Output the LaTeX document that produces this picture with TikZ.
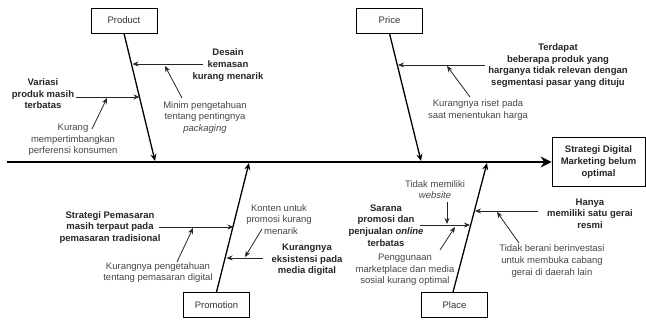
\documentclass[tikz,border=0pt]{standalone}
\usepackage{fontspec}
\setmainfont{Liberation Sans}
\usetikzlibrary{arrows.meta}

\begin{document}
\begin{tikzpicture}[x=1pt, y=-1pt]
	\tikzstyle{every node} = [font=\fontsize{9.5}{11.6}\selectfont, align=center, inner sep=1pt]
	\tikzstyle{category} = [draw, line width=0.8pt, minimum width=66pt, minimum height=25pt, text=black!80]
	\tikzstyle{cause} = [font=\fontsize{9.5}{11.6}\selectfont\bfseries, text=black!85]
	\tikzstyle{reason} = [text=black!72]
	\tikzstyle{spine} = [line width=2.4pt, -{Stealth[length=11pt, width=11pt]}]
	\tikzstyle{bone} = [line width=1.3pt, -{Stealth[length=7pt, width=6pt]}]
	\tikzstyle{branch} = [line width=0.8pt, black!85, -{Stealth[length=6pt, width=5pt]}]
	\useasboundingbox (0,0) rectangle (646,320);
	% categories and effect
	\node[category] (product) at (124,20.5) {Product};
	\node[category] (price) at (389.5,20.5) {Price};
	\node[category] (promotion) at (216.5,305) {Promotion};
	\node[category] (place) at (454.5,305) {Place};
	\node[cause, draw, line width=0.8pt, minimum width=93pt, minimum height=49pt] (effect) at (598.5,162) {Strategi Digital\\Marketing belum\\optimal};
	\coordinate (head) at (7,162);
	\draw[spine] (head) -- (effect.west);
	% bones
	\coordinate (prodtip) at (155,161);
	\coordinate (pricetip) at (421,161);
	\coordinate (promotip) at (249,163);
	\coordinate (placetip) at (487,163);
	\draw[bone] (product.south) -- (prodtip);
	\draw[bone] (price.south) -- (pricetip);
	\draw[bone] (promotion.north) -- (promotip);
	\draw[bone] ([xshift=-1.5pt]place.north) -- (placetip);
	% product
	\node[cause] (desain) at (228,65) {Desain\\kemasan\\kurang menarik};
	\node[reason] (minim) at (205,117.5) {Minim pengetahuan\\tentang pentingnya\\\textit{packaging}};
	\node[cause] (variasi) at (43,94) {Variasi\\produk masih\\terbatas};
	\node[reason] (kurang) at (73,140) {Kurang\\mempertimbangkan\\perferensi konsumen};
	\coordinate (desainl) at (203,64);
	\coordinate (desaint) at (132.5,64);
	\coordinate (minimt) at (165,66);
	\coordinate (minimf) at (182,98);
	\coordinate (variasil) at (76,97);
	\coordinate (variasit) at (139.5,97);
	\coordinate (kurangt) at (107,98);
	\coordinate (kurangf) at (92,129);
	\draw[branch] (desainl) -- (desaint);
	\draw[branch] (minimf) -- (minimt);
	\draw[branch] (variasil) -- (variasit);
	\draw[branch] (kurangf) -- (kurangt);
	% price
	\node[cause] (terdapat) at (558,65.5) {Terdapat\\beberapa produk yang\\harganya tidak relevan dengan\\segmentasi pasar yang dituju};
	\node[reason] (riset) at (478,110) {Kurangnya riset pada\\saat menentukan harga};
	\coordinate (terdapatl) at (485,65);
	\coordinate (terdapatt) at (398,65);
	\coordinate (risett) at (447,66);
	\coordinate (risetf) at (470,97);
	\draw[branch] (terdapatl) -- (terdapatt);
	\draw[branch] (risetf) -- (risett);
	% promotion
	\node[cause] (strategi) at (110,227.5) {Strategi Pemasaran\\masih terpaut pada\\pemasaran tradisional};
	\node[reason] (pengetahuan) at (158,272.5) {Kurangnya pengetahuan\\tentang pemasaran digital};
	\node[cause] (eksistensi) at (307,260) {Kurangnya\\eksistensi pada\\media digital};
	\node[reason] (konten) at (279,219.5) {Konten untuk\\promosi kurang\\\hspace{4pt}menarik};
	\coordinate (strategil) at (159,227);
	\coordinate (strategit) at (233.5,227);
	\coordinate (pengetahuant) at (193,228);
	\coordinate (pengetahuanf) at (177,262);
	\coordinate (eksistensil) at (263,258);
	\coordinate (eksistensit) at (226.5,258);
	\coordinate (kontent) at (245,257);
	\coordinate (kontenf) at (262,229);
	\draw[branch] (strategil) -- (strategit);
	\draw[branch] (pengetahuanf) -- (pengetahuant);
	\draw[branch] (eksistensil) -- (eksistensit);
	\draw[branch] (kontenf) -- (kontent);
	% place
	\node[cause] (sarana) at (386,225.5) {Sarana\\promosi dan\\penjualan \textit{online}\\terbatas};
	\node[reason] (website) at (435,189.5) {Tidak memiliki\\\textit{website}};
	\node[reason] (penggunaan) at (405,270) {Penggunaan\\marketplace dan media\\sosial kurang optimal};
	\node[cause] (hanya) at (590,213.5) {Hanya\\memiliki satu gerai\\resmi};
	\node[reason] (investasi) at (552,261) {Tidak berani berinvestasi\\untuk membuka cabang\\gerai di daerah lain};
	\coordinate (saranal) at (420,225);
	\coordinate (saranat) at (470,225);
	\coordinate (websitef) at (447,202);
	\coordinate (websitet) at (447,224);
	\coordinate (penggunaant) at (455,227);
	\coordinate (penggunaanf) at (440,250);
	\coordinate (hanyal) at (538,211);
	\coordinate (hanyat) at (475,211);
	\coordinate (investasit) at (497,212);
	\coordinate (investasif) at (519,243);
	\draw[branch] (saranal) -- (saranat);
	\draw[branch] (websitef) -- (websitet);
	\draw[branch] (penggunaanf) -- (penggunaant);
	\draw[branch] (hanyal) -- (hanyat);
	\draw[branch] (investasif) -- (investasit);
\end{tikzpicture}
\end{document}
